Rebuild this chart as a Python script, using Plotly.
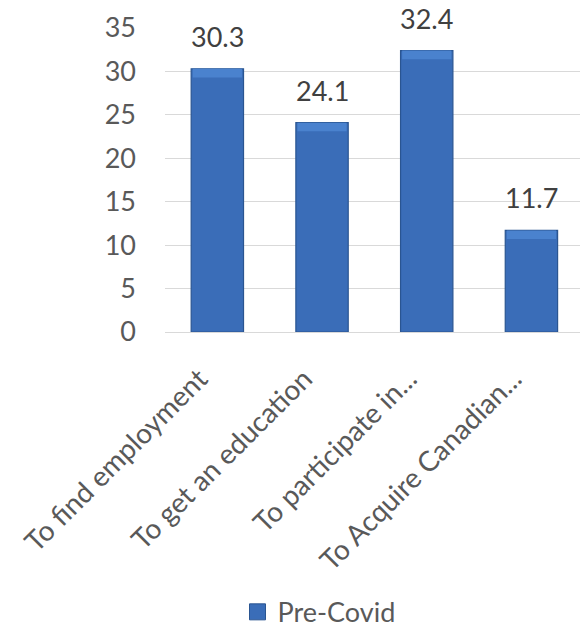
import plotly.graph_objects as go

# Share of respondents by reason, pre-Covid
categories = ["To find employment", "To get an education", "To participate in...", "To Acquire Canadian..."]
values = [30.3, 24.1, 32.4, 11.7]
series_name = "Pre-Covid"
y_ticks = [0, 5, 10, 15, 20, 25, 30, 35]

FONT = "Lato, Carlito, Calibri, sans-serif"
BAR = "#3A6DB8"
BAR_TOP = "#4A82CE"
EDGE = "#2A5591"
BEVEL = 1.0  # height of the lighter cap on each bar, in data units

fig = go.Figure()
fig.add_trace(go.Bar(
    x=categories, y=values, name=series_name, showlegend=False,
    marker=dict(color=BAR, line=dict(color=EDGE, width=1.2)),
    width=0.5,
))
# lighter bevel cap at the top of each bar
fig.add_trace(go.Bar(
    x=categories, y=[BEVEL] * len(values), base=[v - BEVEL for v in values],
    showlegend=False, hoverinfo="skip",
    marker=dict(color=BAR_TOP, line=dict(width=0)),
    width=0.47,
))
# legend entry drawn as a larger square swatch
fig.add_trace(go.Scatter(
    x=[None], y=[None], mode="markers", name=series_name,
    marker=dict(symbol="square", size=18, color=BAR, line=dict(color=EDGE, width=1)),
))

for c, v in zip(categories, values):
    fig.add_annotation(x=c, y=v, text=f"{v}", showarrow=False, yanchor="bottom",
                       yshift=14, font=dict(family=FONT, size=27, color="#404040"))

fig.update_layout(
    width=580, height=628,
    margin=dict(l=165, r=0, t=28, b=296),
    plot_bgcolor="white", paper_bgcolor="white",
    font=dict(family=FONT, size=27, color="#595959"),
    showlegend=True, barmode="overlay",
    legend=dict(orientation="h", xref="container", yref="container",
                x=0.55, y=0.025, xanchor="center", yanchor="middle",
                font=dict(family=FONT, size=27, color="#595959"),
                itemwidth=30, bgcolor="rgba(0,0,0,0)"),
)
fig.update_xaxes(
    type="category", range=[-0.5, 3.464], tickangle=-45,
    showgrid=False, showline=False, ticks="", ticklabelstandoff=24,
    ticklabelshift=-18,
    tickfont=dict(family=FONT, size=28, color="#595959"),
)
fig.update_yaxes(
    range=[0, 35], tickvals=y_ticks, showgrid=True, gridcolor="#D9D9D9", gridwidth=1,
    zeroline=True, zerolinecolor="#D9D9D9", zerolinewidth=1, showline=False,
    ticks="", ticklabelstandoff=28,
    tickfont=dict(family=FONT, size=27, color="#595959"),
)

fig.write_html("out.html")
